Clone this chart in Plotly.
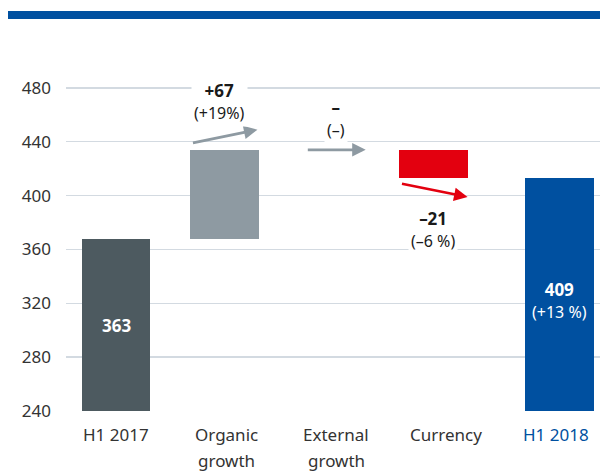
import plotly.graph_objects as go

# ---- data ----
categories = ["H1 2017", "Organic growth", "External growth", "Currency", "H1 2018"]
tick_labels = ["H1 2017", "Organic<br>growth", "External<br>growth", "Currency", "H1 2018"]
start_value = 368
changes = [66, 0, -21]
end_value = 413
value_labels = ["363", "+67", "–", "–21", "409"]
pct_labels = ["", "(+19%)", "(–)", "(–6 %)", "(+13 %)"]

# ---- styling ----
FONT = "Noto Sans"
C_START = "#4d5a60"
C_POS = "#8e9aa2"
C_NEU = "#8e9aa2"
C_NEG = "#e3000f"
C_END = "#0050a0"
TXT = "#333333"
bar_width = 0.627
bar_shift = [0.0, -0.014, 0.0, -0.114, 0.03]   # small horizontal nudges (category units)

# running totals
levels = [start_value]
for c in changes:
    levels.append(levels[-1] + c)
y_vals = [start_value] + changes + [end_value]
bases = [0] + levels[:-1] + [0]
colors = [C_START] + [C_POS if c > 0 else (C_NEG if c < 0 else C_NEU) for c in changes] + [C_END]
offsets = [-bar_width / 2 + s for s in bar_shift]

fig = go.Figure()
fig.add_trace(go.Bar(
    x=list(range(len(categories))), y=y_vals, base=bases,
    width=bar_width, offset=offsets,
    marker=dict(color=colors, line=dict(width=0)),
    hoverinfo="skip", showlegend=False,
))

annotations = []
# arrows for change steps
for i, c in enumerate(changes, start=1):
    cx = i + bar_shift[i]
    lvl = levels[i]
    if c > 0:
        ay, y = lvl + 5, lvl + 15
        x0, x1 = cx - 0.3, cx + 0.3
        col = C_POS
    elif c < 0:
        ay, y = lvl - 4, lvl - 14
        x0, x1 = cx - 0.3, cx + 0.31
        col = C_NEG
    else:
        ay, y = lvl, lvl
        x0, x1 = cx - 0.27, cx + 0.27
        col = C_NEU
    annotations.append(dict(
        x=x1, y=y, ax=x0, ay=ay, xref="x", yref="y", axref="x", ayref="y",
        text="", showarrow=True, arrowhead=2, arrowsize=1.0, arrowwidth=2.7,
        arrowcolor=col, standoff=0, startstandoff=0,
    ))

def change_label(txt, pct):
    return f"<b>{txt}</b><br><span style='font-size:16px'>{pct}</span>"

# organic (+)
annotations.append(dict(
    x=1 - 0.06, y=levels[1], xref="x", yref="y", yshift=48, yanchor="middle",
    text=change_label(value_labels[1], pct_labels[1]),
    showarrow=False, font=dict(family=FONT, size=17, color="#1a1a1a"),
    bgcolor="white", borderpad=2,
))
# external (0)
annotations.append(dict(
    x=2, y=levels[2], xref="x", yref="y", yshift=31, yanchor="middle",
    text=change_label(value_labels[2], pct_labels[2]),
    showarrow=False, font=dict(family=FONT, size=17, color="#1a1a1a"),
    bgcolor="white", borderpad=2,
))
# currency (-)
annotations.append(dict(
    x=3 + bar_shift[3], y=levels[3], xref="x", yref="y", yshift=-51, yanchor="middle",
    text=change_label(value_labels[3], pct_labels[3]),
    showarrow=False, font=dict(family=FONT, size=17, color="#1a1a1a"),
    bgcolor="white", borderpad=2,
))
# start total label
annotations.append(dict(
    x=0, y=start_value, xref="x", yref="y", yshift=-87, yanchor="middle",
    text=f"<b>{value_labels[0]}</b>", showarrow=False,
    font=dict(family=FONT, size=17, color="white"),
))
# end total label
annotations.append(dict(
    x=4 + bar_shift[4], y=end_value, xref="x", yref="y", yshift=-122, yanchor="middle",
    text=f"<b>{value_labels[4]}</b><br><span style='font-size:16px'>{pct_labels[4]}</span>",
    showarrow=False, font=dict(family=FONT, size=17, color="white"),
))

# category labels (two lines each)
for i, lab in enumerate(tick_labels):
    col = C_END if i == len(tick_labels) - 1 else TXT
    for j, line in enumerate(lab.split("<br>")):
        annotations.append(dict(
            x=i, y=0, xref="x", yref="paper", yanchor="middle",
            yshift=-23 - 26 * j, text=line, showarrow=False,
            font=dict(family=FONT, size=17, color=col),
        ))

fig.update_layout(
    width=600, height=476,
    margin=dict(l=66, r=0, t=61, b=65),
    paper_bgcolor="white", plot_bgcolor="white",
    font=dict(family=FONT, size=17, color=TXT),
    bargap=0,
    xaxis=dict(range=[-0.4545, 4.4], showticklabels=False, showgrid=False,
               zeroline=False, showline=False, ticks=""),
    yaxis=dict(range=[240, 500], tickvals=[240, 280, 320, 360, 400, 440, 480],
               showgrid=True, gridcolor="#d3dae1", gridwidth=1.4,
               zeroline=False, showline=False, ticks="",
               ticklabelstandoff=14,
               tickfont=dict(family=FONT, size=17, color=TXT)),
    annotations=annotations,
    shapes=[dict(type="rect", xref="paper", yref="paper",
                 xsizemode="pixel", ysizemode="pixel", xanchor=1, yanchor=1,
                 x0=-592, x1=0, y0=42, y1=50,
                 fillcolor=C_END, line=dict(width=0), layer="above")],
)

fig.write_html(
    "out.html",
    config={"displayModeBar": False, "staticPlot": True},
    post_script="document.body.style.margin='0';document.body.style.overflow='hidden';",
)
